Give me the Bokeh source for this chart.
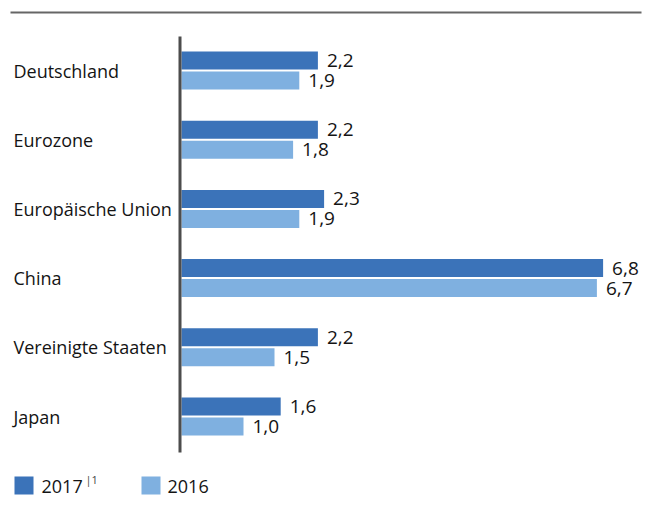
from bokeh.plotting import figure
from bokeh.models import Range1d, Label, ColumnDataSource
from bokeh.core.properties import value
from bokeh.embed import file_html
from bokeh.resources import INLINE

categories = ["Deutschland", "Eurozone", "Europäische Union", "China", "Vereinigte Staaten", "Japan"]
values_2017 = [2.2, 2.2, 2.3, 6.8, 2.2, 1.6]
values_2016 = [1.9, 1.8, 1.9, 6.7, 1.5, 1.0]
series_names = ["2017", "2016"]

C2017 = "#3b73b9"
C2016 = "#7fb0e0"
TEXT = "#141414"
FONT = "Open Sans"

W, H = 642, 506
OFF = 0
X0, PXU = 181.0, 62.0      # image x of value 0, px per unit
Y0, PYU = 70.0, 69.2       # image y of first group, px per group


def ix(px):
    return (px - X0) / PXU


def iy(py):
    return (py - Y0) / PYU


p = figure(width=W, height=H, output_backend="svg", toolbar_location=None,
           x_axis_location=None, y_axis_location=None,
           x_range=Range1d(ix(OFF), ix(OFF + W)),
           y_range=Range1d(iy(OFF + H), iy(OFF)))
p.min_border = 0
p.outline_line_color = None
p.xgrid.visible = False
p.ygrid.visible = False
p.background_fill_color = "white"
p.border_fill_color = "white"

idx = list(range(len(categories)))
bar_off = 10 / PYU
bar_h = 18 / PYU

fmt = lambda v: f"{v:.1f}".replace(".", ",")
src17 = ColumnDataSource(dict(y=[i - bar_off for i in idx], v=values_2017,
                              lab=[fmt(v) for v in values_2017]))
src16 = ColumnDataSource(dict(y=[i + bar_off for i in idx], v=values_2016,
                              lab=[fmt(v) for v in values_2016]))

p.hbar(y="y", left=0, right="v", height=bar_h, source=src17, fill_color=C2017, line_color=None)
p.hbar(y="y", left=0, right="v", height=bar_h, source=src16, fill_color=C2016, line_color=None)

for src in (src17, src16):
    p.text(x="v", y="y", text="lab", source=src, x_offset=9, y_offset=0,
           text_align="left", text_baseline="middle", text_font=value(FONT),
           text_font_size="19px", text_color=TEXT)

# category labels
p.text(x=[ix(13)] * len(categories), y=idx, text=categories,
       text_align="left", text_baseline="middle", text_font=value(FONT),
       text_font_size="18px", text_color=TEXT)

# axis line
p.segment(x0=[ix(179.5)], y0=[iy(36)], x1=[ix(179.5)], y1=[iy(452)],
          line_color="#4d4d4d", line_width=3)

# top rule
p.segment(x0=[ix(10)], y0=[iy(12)], x1=[ix(641)], y1=[iy(12)],
          line_color="#666666", line_width=2)

# legend
p.rect(x=[ix(23.5), ix(150.5)], y=[iy(485)] * 2, width=19 / PXU, height=18 / PYU,
       fill_color=[C2017, C2016], line_color=None)
p.text(x=[ix(41), ix(167)], y=[iy(486)] * 2, text=series_names,
       text_align="left", text_baseline="middle", text_font=value(FONT),
       text_font_size="18px", text_color=TEXT)
p.add_layout(Label(x=ix(85), y=iy(479), text="|1", text_align="left",
                   text_baseline="middle", text_font=FONT, text_font_size="11px",
                   text_color="#444444"))

open("out.html", "w").write(file_html(p, INLINE))
